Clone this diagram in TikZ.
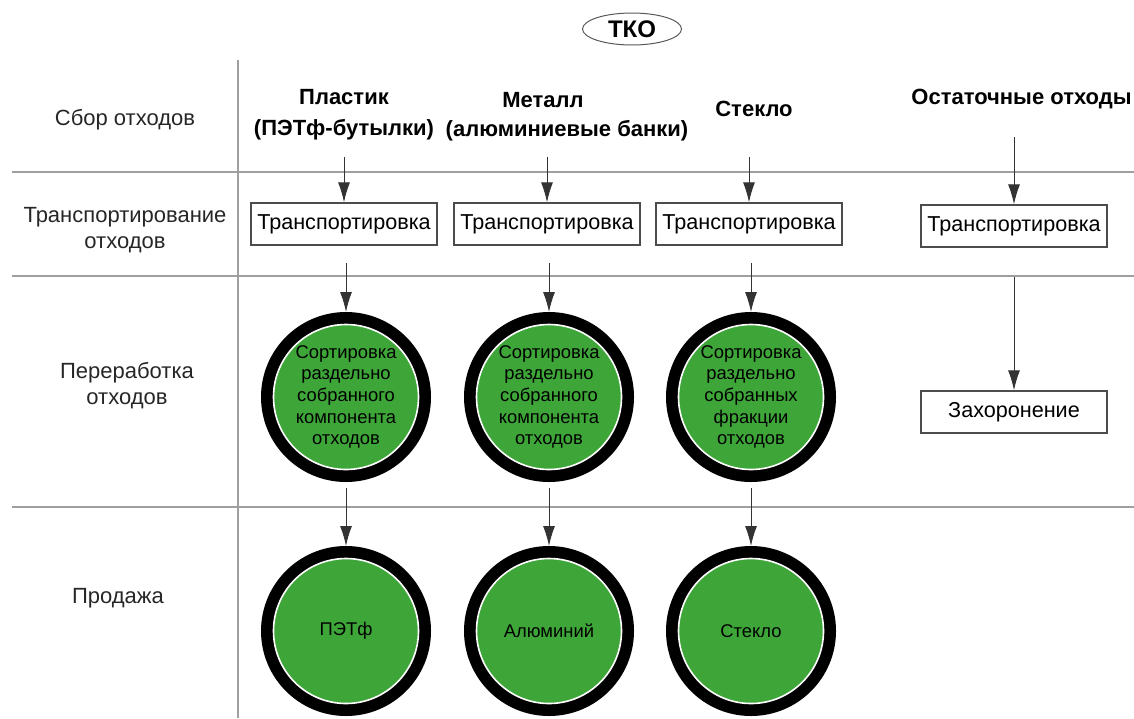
\documentclass[tikz,border=0pt]{standalone}
\usepackage{fontspec}
\setmainfont{Liberation Sans}
\usetikzlibrary{shapes.geometric,arrows.meta}
\definecolor{sortgreen}{RGB}{62,166,56}

\begin{document}
\begin{tikzpicture}[x=0.5pt, y=-0.5pt,
  sep/.style = {draw=gray!75, line width=1.1pt},
  lbl/.style = {font=\fontsize{11}{13}\selectfont, text=black!85, align=center},
  head/.style = {font=\fontsize{11}{15.5}\selectfont\bfseries, align=center},
  box/.style = {draw=gray!60!black, line width=0.7pt, minimum width=93pt,
    minimum height=21pt, inner sep=1pt, font=\fontsize{10.8}{13}\selectfont},
  disc/.style = {circle, fill=sortgreen, draw=white, line width=0.8pt,
    minimum size=72.5pt, inner sep=0pt, outer sep=6.25pt,
    preaction={draw=black, line width=12.5pt},
    align=center, font=\fontsize{9.2}{10.8}\selectfont},
  arr/.style = {draw=black!80, line width=0.5pt, -{Latex[length=10pt,width=6pt]}}
  ]
  \useasboundingbox (0,0) rectangle (1134,718);

  % table lines
  \draw[sep] (12,172) -- (1134,172);
  \draw[sep] (12,276) -- (1134,276);
  \draw[sep] (12,507) -- (1134,507);
  \draw[sep] (238,60) -- (238,718);

  \node[ellipse, draw=gray!70!black, line width=0.5pt, minimum width=49.5pt,
    minimum height=16pt, inner sep=0pt,
    font=\fontsize{12}{14}\selectfont\bfseries] (tko) at (632,29) {ТКО};

  % stages
  \node[lbl] (collect)   at (125,120) {Сбор отходов};
  \node[lbl] (transport) at (125,230) {Транспортирование\\отходов};
  \node[lbl] (process)   at (127,386) {Переработка\\отходов};
  \node[lbl] (sale)      at (118,598) {Продажа};

  % waste kinds
  \node[head] (plastic) at (344,115) {Пластик\\(ПЭТф-бутылки)};
  \node[head] (metal)   at (543,100) {Металл};
  \node[head] (metal2)  at (567,131) {(алюминиевые банки)};
  \node[head] (glass)   at (754,109) {Стекло};
  \node[head, anchor=east, inner xsep=1pt] (rest) at (1134,99) {Остаточные отходы};

  % transport
  \node[box] (tr1) at (344,224) {Транспортировка};
  \node[box] (tr2) at (547,224) {Транспортировка};
  \node[box] (tr3) at (749,224) {Транспортировка};
  \node[box] (tr4) at (1014,226) {Транспортировка};

  % processing
  \node[disc] (sort1) at (346,397) {Сортировка\\раздельно\\собранного\\компонента\\отходов};
  \node[disc] (sort2) at (549,397) {Сортировка\\раздельно\\собранного\\компонента\\отходов};
  \node[disc] (sort3) at (751,397) {Сортировка\\раздельно\\собранных\\фракции\\отходов};
  \node[box] (burial) at (1014,412) {Захоронение};

  % sale
  \node[disc] (pet)   at (346,631) {ПЭТф};
  \node[disc] (alu)   at (549,631) {Алюминий};
  \node[disc] (cull)  at (751,631) {Стекло};

  % arrow starts
  \coordinate (c1) at (344,157);
  \coordinate (c2) at (547,157);
  \coordinate (c3) at (749,157);
  \coordinate (c4) at (1014,137);
  \coordinate (t1) at (346,263);
  \coordinate (t2) at (549,263);
  \coordinate (t3) at (751,263);
  \coordinate (t4) at (1014,277);
  \coordinate (s1) at (346,488);
  \coordinate (s2) at (549,488);
  \coordinate (s3) at (751,488);

  \draw[arr] (c1) -- (tr1);
  \draw[arr] (c2) -- (tr2);
  \draw[arr] (c3) -- (tr3);
  \draw[arr] (c4) -- (tr4);
  \draw[arr] (t1) -- (sort1);
  \draw[arr] (t2) -- (sort2);
  \draw[arr] (t3) -- (sort3);
  \draw[arr] (t4) -- (burial);
  \draw[arr] (s1) -- (pet);
  \draw[arr] (s2) -- (alu);
  \draw[arr] (s3) -- (cull);
\end{tikzpicture}
\end{document}
